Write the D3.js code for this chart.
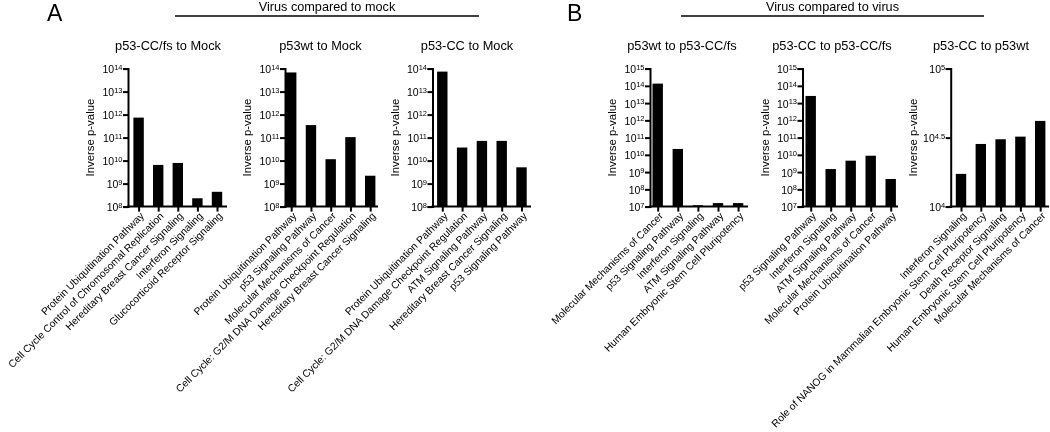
<!DOCTYPE html>
<html>
<head>
<meta charset="utf-8">
<script src="https://cdn.jsdelivr.net/npm/d3@7"></script>
<style>
  body { margin: 0; background: #fff; }
  svg { font-family: "Liberation Sans", Arial, Helvetica, sans-serif; will-change: transform; }
</style>
</head>
<body>
<div id="chart"></div>
<script>
// pathway names per comparison
const catsCCfsMock = ['Protein Ubiquitination Pathway', 'Cell Cycle Control of Chromosomal Replication', 'Hereditary Breast Cancer Signaling', 'Interferon Signaling', 'Glucocorticoid Receptor Signaling'];
const catsWtMock = ['Protein Ubiquitination Pathway', 'p53 Signaling Pathway', 'Molecular Mechanisms of Cancer', 'Cell Cycle: G2/M DNA Damage Checkpoint Regulation', 'Hereditary Breast Cancer Signaling'];
const catsCCMock = ['Protein Ubiquitination Pathway', 'Cell Cycle: G2/M DNA Damage Checkpoint Regulation', 'ATM Signaling Pathway', 'Hereditary Breast Cancer Signaling', 'p53 Signaling Pathway'];
const catsWtCCfs = ['Molecular Mechanisms of Cancer', 'p53 Signaling Pathway', 'Interferon Signaling', 'ATM Signaling Pathway', 'Human Embryonic Stem Cell Pluripotency'];
const catsCCCCfs = ['p53 Signaling Pathway', 'Interferon Signaling', 'ATM Signaling Pathway', 'Molecular Mechanisms of Cancer', 'Protein Ubiquitination Pathway'];
const catsCCWt = ['Interferon Signaling', 'Role of NANOG in Mammalian Embryonic Stem Cell Pluripotency', 'Death Receptor Signaling', 'Human Embryonic Stem Cell Pluripotency', 'Molecular Mechanisms of Cancer'];

// inverse p-values
const valsCCfsMock = [7.4e11, 6.5e9, 7.9e9, 2.3e8, 4.4e8];
const valsWtMock = [6.8e13, 3.5e11, 1.15e10, 1.05e11, 2.2e9];
const valsCCMock = [7.4e13, 3.7e10, 7.2e10, 7.2e10, 5.1e9];
const valsWtCCfs = [1.35e14, 2.2e10, 1.2e7, 1.6e7, 1.6e7];
const valsCCCCfs = [2.6e13, 1.5e9, 4.6e9, 8.9e9, 4.0e8];
const valsCCWt = [17260, 28440, 30760, 32140, 41780];

// tick exponents
const ticksMock = [8, 9, 10, 11, 12, 13, 14];
const ticksVirus = [7, 8, 9, 10, 11, 12, 13, 14, 15];
const ticksCCWt = [4, 4.5, 5];

const panels = [
  { title: 'p53-CC/fs to Mock', cats: catsCCfsMock, vals: valsCCfsMock, ticks: ticksMock, axisX: 128, first: 138.6, step: 19.6, end: 227, titleX: 168 },
  { title: 'p53wt to Mock', cats: catsWtMock, vals: valsWtMock, ticks: ticksMock, axisX: 285, first: 291.2, step: 19.75, end: 378, titleX: 320.5 },
  { title: 'p53-CC to Mock', cats: catsCCMock, vals: valsCCMock, ticks: ticksMock, axisX: 432.5, first: 442.3, step: 19.8, end: 531, titleX: 467 },
  { title: 'p53wt to p53-CC/fs', cats: catsWtCCfs, vals: valsWtCCfs, ticks: ticksVirus, axisX: 650, first: 657.7, step: 20.1, end: 748, titleX: 682 },
  { title: 'p53-CC to p53-CC/fs', cats: catsCCCCfs, vals: valsCCCCfs, ticks: ticksVirus, axisX: 802.5, first: 810.7, step: 20, end: 898, titleX: 832 },
  { title: 'p53-CC to p53wt', cats: catsCCWt, vals: valsCCWt, ticks: ticksCCWt, axisX: 950.7, first: 961, step: 19.8, end: 1049, titleX: 981 }
];

const W = 1050, H = 432;
const yTop = 68.6, yBottom = 206.6;

const svg = d3.select('#chart').append('svg')
  .attr('width', W)
  .attr('height', H);

svg.append('rect').attr('width', W).attr('height', H).attr('fill', '#fff');

// panel letters and group headers
svg.append('text').attr('x', 47).attr('y', 21).style('font-size', '23px').text('A');
svg.append('text').attr('x', 567).attr('y', 21).style('font-size', '23px').text('B');

const headers = [
  { text: 'Virus compared to mock', x1: 175, x2: 479 },
  { text: 'Virus compared to virus', x1: 681, x2: 984 }
];
headers.forEach(h => {
  svg.append('text')
    .attr('x', (h.x1 + h.x2) / 2)
    .attr('y', 10.5)
    .attr('text-anchor', 'middle')
    .style('font-size', '12.7px')
    .text(h.text);
  svg.append('line')
    .attr('x1', h.x1).attr('x2', h.x2)
    .attr('y1', 16).attr('y2', 16)
    .attr('stroke', '#000')
    .attr('stroke-width', 1.6);
});

panels.forEach(p => {
  const g = svg.append('g');

  const lo = Math.pow(10, p.ticks[0]);
  const hi = Math.pow(10, p.ticks[p.ticks.length - 1]);
  const y = d3.scaleLog().domain([lo, hi]).range([yBottom, yTop]);

  const x = d3.scalePoint()
    .domain(p.cats)
    .range([p.first, p.first + p.step * (p.cats.length - 1)]);

  const barW = 10.4;

  // bars
  g.selectAll('rect.bar')
    .data(p.cats.map((c, i) => ({ cat: c, val: p.vals[i] })))
    .enter().append('rect')
    .attr('class', 'bar')
    .attr('x', d => x(d.cat) - barW / 2)
    .attr('width', barW)
    .attr('y', d => y(d.val))
    .attr('height', d => yBottom - y(d.val))
    .attr('fill', '#000');

  // y axis
  const yAxis = g.append('g')
    .attr('transform', `translate(${p.axisX},0)`)
    .call(d3.axisLeft(y)
      .tickValues(p.ticks.map(e => Math.pow(10, e)))
      .tickSize(5)
      .tickSizeOuter(5)
      .tickFormat(''));
  yAxis.select('.domain').attr('stroke-width', 2);
  yAxis.selectAll('.tick line').attr('stroke-width', 2);
  yAxis.selectAll('.tick text').remove();
  yAxis.selectAll('.tick').each(function (d, i) {
    const exp = p.ticks[i];
    const t = d3.select(this).append('text')
      .attr('x', -5.5)
      .attr('y', 0)
      .attr('dy', '0.38em')
      .attr('text-anchor', 'end')
      .attr('fill', '#000')
      .style('font-size', '10.5px')
      .style('font-family', '"Liberation Sans", Arial, sans-serif');
    t.append('tspan').text('10');
    t.append('tspan')
      .attr('dy', '-0.45em')
      .style('font-size', '7.5px')
      .text(String(exp));
  });

  // x axis
  const xAxis = g.append('g')
    .attr('transform', `translate(0,${yBottom})`)
    .call(d3.axisBottom(x).tickSize(5).tickSizeOuter(0));
  xAxis.select('.domain')
    .attr('d', `M${p.axisX - 1},0H${p.end}`)
    .attr('stroke-width', 2);
  xAxis.selectAll('.tick line').attr('stroke-width', 2);
  xAxis.selectAll('.tick text')
    .attr('x', null)
    .attr('y', null)
    .attr('dy', '0.35em')
    .attr('text-anchor', 'end')
    .attr('fill', '#000')
    .attr('transform', 'translate(3,7.5) rotate(-45)')
    .style('font-size', '10.3px')
    .style('font-family', '"Liberation Sans", Arial, sans-serif');

  // y axis label
  g.append('text')
    .attr('transform', `translate(${p.axisX - 38},${(yTop + yBottom) / 2}) rotate(-90)`)
    .attr('text-anchor', 'middle')
    .attr('dy', '0.35em')
    .style('font-size', '11.4px')
    .text('Inverse p-value');

  // panel title
  g.append('text')
    .attr('x', p.titleX)
    .attr('y', 50)
    .attr('text-anchor', 'middle')
    .style('font-size', '12.8px')
    .text(p.title);
});
</script>
</body>
</html>
